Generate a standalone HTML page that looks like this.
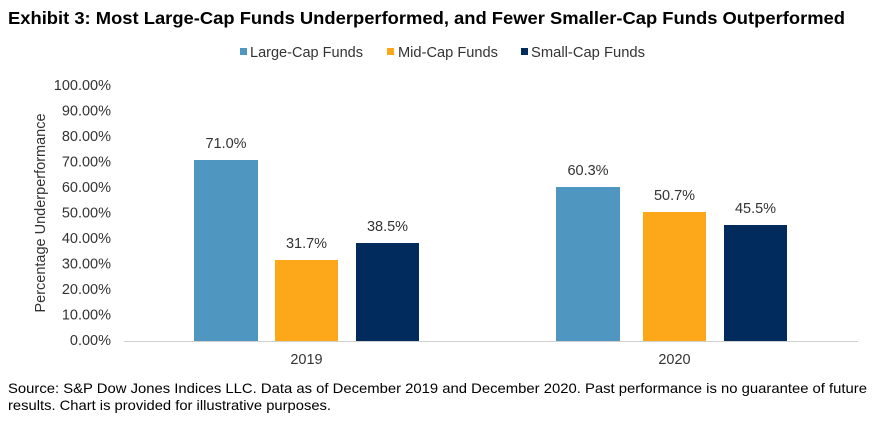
<!DOCTYPE html><html><head><style>
body{margin:0;width:873px;height:427px;background:#fff;font-family:"Liberation Sans",Arial,sans-serif;overflow:hidden}
</style></head><body>
<svg width="873" height="427" xmlns="http://www.w3.org/2000/svg" font-family="Liberation Sans, Arial, sans-serif">
<text x="8" y="24" font-size="17.5" font-weight="bold" fill="#000" textLength="837" lengthAdjust="spacingAndGlyphs">Exhibit 3: Most Large-Cap Funds Underperformed, and Fewer Smaller-Cap Funds Outperformed</text>
<g font-size="14.5" fill="#333">
<rect x="240" y="48" width="7" height="7" fill="#4f97c1"/><text x="250" y="57" textLength="113" lengthAdjust="spacingAndGlyphs">Large-Cap Funds</text>
<rect x="387" y="48" width="7" height="7" fill="#fca81a"/><text x="398" y="57" textLength="100" lengthAdjust="spacingAndGlyphs">Mid-Cap Funds</text>
<rect x="521" y="48" width="7" height="7" fill="#002b5c"/><text x="531" y="57" textLength="114" lengthAdjust="spacingAndGlyphs">Small-Cap Funds</text>
</g>
<g font-size="14.5" fill="#333" text-anchor="end">
<text x="111" y="90">100.00%</text><text x="111" y="115.5">90.00%</text><text x="111" y="141">80.00%</text><text x="111" y="166.5">70.00%</text><text x="111" y="192">60.00%</text><text x="111" y="217.5">50.00%</text><text x="111" y="243">40.00%</text><text x="111" y="268.5">30.00%</text><text x="111" y="294">20.00%</text><text x="111" y="319.5">10.00%</text><text x="111" y="345">0.00%</text>
</g>
<text transform="translate(45,213) rotate(-90)" font-size="14.5" fill="#333" text-anchor="middle">Percentage Underperformance</text>
<rect x="194" y="160" width="64" height="181" fill="#4f97c1"/>
<rect x="275" y="260" width="63" height="81" fill="#fca81a"/>
<rect x="356" y="243" width="63" height="98" fill="#002b5c"/>
<rect x="556" y="187" width="64" height="154" fill="#4f97c1"/>
<rect x="643" y="212" width="63" height="129" fill="#fca81a"/>
<rect x="724" y="225" width="63" height="116" fill="#002b5c"/>
<line x1="124" y1="341.5" x2="858" y2="341.5" stroke="#d0d0d0" stroke-width="1"/>
<g font-size="14.5" fill="#333" text-anchor="middle">
<text x="226" y="148">71.0%</text><text x="306.5" y="248">31.7%</text><text x="387.5" y="231">38.5%</text>
<text x="588" y="175">60.3%</text><text x="674.5" y="200">50.7%</text><text x="755.5" y="213">45.5%</text>
<text x="306.5" y="364">2019</text><text x="674.5" y="364">2020</text>
</g>
<g font-size="14" fill="#000">
<text x="8" y="393" textLength="859" lengthAdjust="spacingAndGlyphs">Source: S&amp;P Dow Jones Indices LLC. Data as of December 2019 and December 2020. Past performance is no guarantee of future</text>
<text x="8" y="410" textLength="323" lengthAdjust="spacingAndGlyphs">results. Chart is provided for illustrative purposes.</text>
</g>
</svg>
</body></html>
